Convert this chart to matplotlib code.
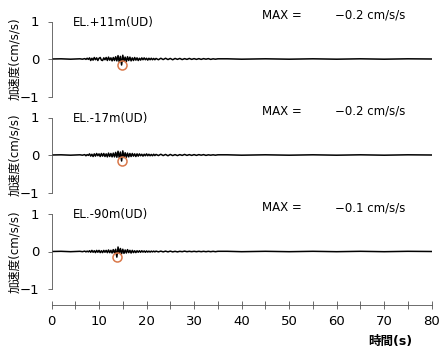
import numpy as np
import matplotlib
matplotlib.use("Agg")
import matplotlib.pyplot as plt

plt.rcParams['font.family'] = ['DejaVu Sans', 'Noto Sans CJK JP']

# ---- data ----
labels = ["EL.+11m(UD)", "EL.-17m(UD)", "EL.-90m(UD)"]
max_texts = ["-0.2 cm/s/s", "-0.2 cm/s/s", "-0.1 cm/s/s"]

t_start = [0.0, 2.0, 4.0, 6.0, 6.5]
t_dense = list(np.arange(7.0, 22.001, 0.25))   # 61 samples
t_tail = list(np.arange(22.5, 35.001, 0.5))    # 26 samples
t_end = [37.0, 40.0, 45.0, 50.0, 55.0, 60.0, 65.0, 70.0, 75.0, 80.0]
time = t_start + t_dense + t_tail + t_end

v_start = [0.0, 0.005, -0.005, 0.005, -0.005]
v_end = [0.005, -0.005, 0.005, -0.005, 0.005, -0.005, 0.005, -0.005, 0.005, 0.0]

acc1_dense = [0.01, -0.01, 0.02, -0.01, 0.03, -0.04, 0.02, -0.03,
              0.04, -0.02, 0.03, -0.04, 0.02, 0.04, -0.03, -0.04,
              0.03, -0.02, 0.04, -0.04, 0.05, -0.03, 0.03, -0.05,
              0.04, -0.04, 0.06, -0.05, 0.09, -0.08, 0.07, -0.16,
              0.10, -0.06, 0.05, -0.07, 0.06, -0.04, 0.05, -0.05,
              0.03, -0.04, 0.04, -0.03, 0.03, -0.04, 0.02, -0.03,
              0.03, -0.02, 0.03, -0.02, 0.02, -0.03, 0.02, -0.02,
              0.02, -0.02, 0.015, -0.02, 0.015]
acc1_tail = [-0.02, 0.02, -0.015, 0.02, -0.015, 0.015, -0.02, 0.015, -0.01,
             0.015, -0.015, 0.01, -0.01, 0.015, -0.01, 0.01, -0.01, 0.01,
             -0.01, 0.01, -0.005, 0.01, -0.01, 0.005, -0.005, 0.005]

acc2_dense = [0.01, -0.02, 0.01, -0.01, 0.03, -0.03, 0.02, -0.04,
              0.03, -0.03, 0.04, -0.02, 0.03, -0.04, 0.04, -0.03,
              0.04, -0.04, 0.03, -0.05, 0.05, -0.04, 0.04, -0.05,
              0.05, -0.05, 0.07, -0.06, 0.10, -0.07, 0.08, -0.16,
              0.11, -0.07, 0.06, -0.06, 0.05, -0.05, 0.04, -0.04,
              0.04, -0.03, 0.03, -0.04, 0.03, -0.03, 0.03, -0.02,
              0.02, -0.03, 0.02, -0.02, 0.03, -0.02, 0.02, -0.02,
              0.015, -0.02, 0.02, -0.015, 0.015]
acc2_tail = [-0.015, 0.02, -0.015, 0.015, -0.02, 0.015, -0.015, 0.01, -0.015,
             0.01, -0.01, 0.015, -0.01, 0.01, -0.01, 0.01, -0.01, 0.01,
             -0.005, 0.01, -0.01, 0.005, -0.005, 0.005, -0.005, 0.005]

acc3_dense = [0.01, -0.01, 0.01, -0.01, 0.02, -0.02, 0.03, -0.02,
              0.02, -0.03, 0.03, -0.02, 0.03, -0.03, 0.02, -0.03,
              0.03, -0.02, 0.03, -0.03, 0.04, -0.03, 0.03, -0.04,
              0.05, -0.04, 0.06, -0.15, 0.12, -0.05, 0.08, -0.06,
              0.06, -0.05, 0.04, -0.04, 0.05, -0.03, 0.03, -0.04,
              0.03, -0.03, 0.02, -0.03, 0.02, -0.02, 0.02, -0.02,
              0.02, -0.015, 0.015, -0.02, 0.015, -0.015, 0.01, -0.015,
              0.01, -0.01, 0.01, -0.01, 0.01]
acc3_tail = [-0.01, 0.01, -0.01, 0.01, -0.01, 0.01, -0.01, 0.005, -0.01,
             0.005, -0.005, 0.01, -0.005, 0.005, -0.005, 0.005, -0.005, 0.005,
             -0.005, 0.005, -0.005, 0.005, -0.005, 0.005, -0.005, 0.005]

series = [v_start + acc1_dense + acc1_tail + v_end,
          v_start + acc2_dense + acc2_tail + v_end,
          v_start + acc3_dense + acc3_tail + v_end]

x_ticks = [0, 10, 20, 30, 40, 50, 60, 70, 80]
x_minor = [5, 15, 25, 35, 45, 55, 65, 75]
y_ticks = [-1, 0, 1]
y_ticklabels = ["\u22121", "0", "1"]

# ---- figure ----
W, H = 443, 352
fig = plt.figure(figsize=(W / 100, H / 100), dpi=100)

left = 51.5 / W
width = (431.7 - 51.5) / W
zero_px = [59, 155, 251.5]
px_per_unit = 37.5
ylim = 1.25
hpx = 2 * ylim * px_per_unit
axis_col = '#555555'

for i in range(3):
    bottom_px = zero_px[i] + hpx / 2
    ax = fig.add_axes([left, 1 - bottom_px / H, width, hpx / H])
    ax.patch.set_visible(False)
    ax.set_xlim(0, 80)
    ax.set_ylim(-ylim, ylim)
    for s in ['top', 'right', 'bottom']:
        ax.spines[s].set_visible(False)
    ax.spines['left'].set_bounds(-1, 1)
    ax.spines['left'].set_linewidth(0.6)
    ax.spines['left'].set_color(axis_col)
    ax.set_xticks([])
    ax.set_yticks(y_ticks)
    ax.set_yticklabels(y_ticklabels)
    ax.tick_params(axis='y', direction='out', length=3, width=0.6,
                   color=axis_col, labelsize=9.5, pad=6)
    y = np.array(series[i])
    ax.plot(time, y, color='black', lw=1.1)
    k = int(np.argmin(y))
    ax.plot([time[k]], [y[k]], marker='o', ms=6.5, mfc='none',
            mec='#d9784a', mew=1.1, linestyle='none')
    ax.text(4.5, 0.98, labels[i], fontsize=8.5, va='center', ha='left')
    ax.text(44.3, 1.17, "MAX =", fontsize=8.5, va='center', ha='left')
    ax.text(59.6, 1.17, max_texts[i].replace('-', '\u2212', 1), fontsize=8.5,
            va='center', ha='left')
    fig.text(15 / W, 1 - zero_px[i] / H, "加速度(cm/s/s)", rotation=90,
             fontsize=8.5, va='center', ha='center')

# bottom time axis
axb = fig.add_axes([left, 1 - 305 / H, width, 0.0001])
axb.patch.set_visible(False)
for s in ['top', 'right', 'left']:
    axb.spines[s].set_visible(False)
axb.spines['bottom'].set_linewidth(0.6)
axb.spines['bottom'].set_color(axis_col)
axb.set_xlim(0, 80)
axb.set_yticks([])
axb.set_xticks(x_ticks)
axb.set_xticks(x_minor, minor=True)
axb.tick_params(axis='x', which='both', direction='inout', length=6, width=0.6,
                color=axis_col, labelsize=9.5, pad=4)
fig.text(390 / W, 1 - 341 / H, "時間(s)", fontsize=9, fontweight='bold',
         ha='center', va='center')

fig.savefig("out.png", dpi=100)
